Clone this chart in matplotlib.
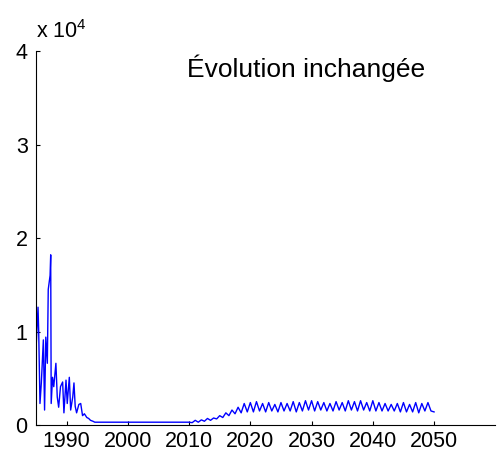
import numpy as np
import matplotlib
matplotlib.use('Agg')
import matplotlib.pyplot as plt
from matplotlib.ticker import FuncFormatter

plt.rcParams['font.family'] = ['Liberation Sans', 'DejaVu Sans']
plt.rcParams['mathtext.fontset'] = 'custom'
plt.rcParams['mathtext.rm'] = 'Liberation Sans'

# Early years, irregular sampling
years_early = [1985.0, 1985.1, 1985.33, 1985.44, 1985.65, 1985.87, 1986.2, 1986.4,
               1986.6, 1986.85, 1987.0, 1987.3, 1987.4, 1987.48, 1987.7, 1987.9,
               1988.25, 1988.47, 1988.7, 1989.0, 1989.35, 1989.56, 1989.9, 1990.1,
               1990.44, 1990.66, 1991.0, 1991.2, 1991.4, 1991.63, 1992.0, 1992.3,
               1992.6, 1992.9, 1993.3, 1993.6, 1993.9, 1994.3, 1994.6]
values_early = [8000, 9500, 12600, 10000, 2300, 4500, 9100, 1600,
                9400, 6600, 14500, 16000, 18200, 2300, 5100, 4100,
                6600, 3000, 1900, 4100, 4600, 1300, 4800, 2300,
                5100, 1600, 3000, 4500, 2000, 1300, 2200, 2300,
                1000, 1200, 800, 700, 500, 400, 300]

# Flat period
years_flat = [2000.0, 2005.0]
values_flat = [300, 300]

# Projection, half-year steps 2010 -> 2050
values_late = [300, 250, 500, 300, 550, 400, 700, 500, 750, 650,
               1000, 800, 1300, 1000, 1600, 1200, 1900, 1300, 2300, 1400,
               2400, 1400, 2500, 1500, 2300, 1400, 2400, 1500, 2200, 1400,
               2400, 1500, 2300, 1500, 2500, 1400, 2400, 1500, 2600, 1600,
               2600, 1500, 2500, 1600, 2400, 1500, 2300, 1500, 2500, 1600,
               2400, 1500, 2600, 1600, 2500, 1500, 2600, 1600, 2400, 1500,
               2600, 1500, 2400, 1500, 2300, 1500, 2200, 1500, 2300, 1400,
               2400, 1400, 2200, 1400, 2400, 1300, 2300, 1500, 2400, 1500,
               1400]
years_late = list(np.arange(2010.0, 2050.01, 0.5))

years = years_early + years_flat + years_late
values = values_early + values_flat + values_late

title = 'Évolution inchangée'
xticks = [1990, 2000, 2010, 2020, 2030, 2040, 2050]
yticks = [0, 10000, 20000, 30000, 40000]

fig = plt.figure(figsize=(5.04, 4.54), dpi=100)
ax = fig.add_axes([36 / 504, 29 / 454, (495.3 - 36) / 504, (425 - 51) / 454])

ax.plot(years, values, color='#0000ff', linewidth=1.0)

ax.set_xlim(1985, 2060)
ax.set_ylim(0, 40000)
ax.set_xticks(xticks)
ax.set_yticks(yticks)
ax.yaxis.set_major_formatter(FuncFormatter(lambda v, p: f'{v / 1e4:g}'))

ax.spines['top'].set_visible(False)
ax.spines['right'].set_visible(False)
ax.tick_params(direction='in', length=3, width=0.8, labelsize=15.5)
ax.tick_params(axis='x', pad=4.5)
ax.tick_params(axis='y', pad=6)

ax.text(1985, 40900, r'x 10$^{4}$', fontsize=15.5, ha='left', va='bottom')
ax.text(2048.5, 38200, title, fontsize=19, ha='right', va='center')

fig.savefig('out.png', dpi=100)
